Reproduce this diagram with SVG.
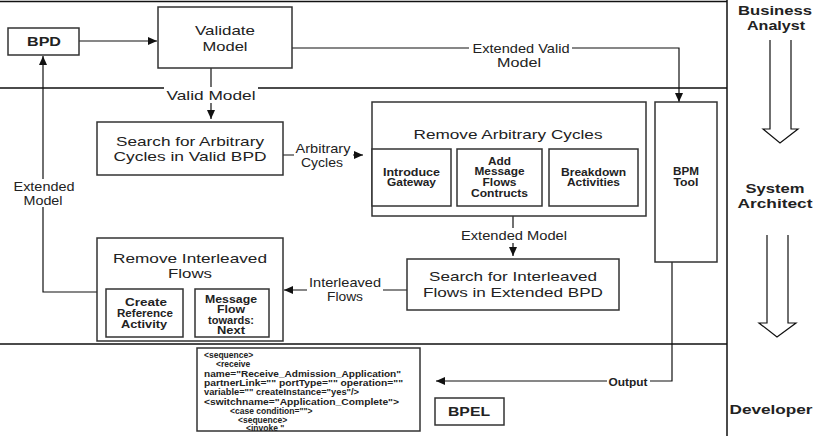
<svg xmlns="http://www.w3.org/2000/svg" width="814" height="436" viewBox="0 0 814 436">
<style>
.bg{fill:#fff}
.box{fill:#fff;stroke:#333;stroke-width:1.5}
.lane{fill:none;stroke:#111;stroke-width:1.5}
.ln{fill:none;stroke:#111;stroke-width:1.2}
.hol{fill:none;stroke:#111;stroke-width:1.2}
.t{font-family:"Liberation Sans",Arial,sans-serif;font-size:13px;fill:#222;text-anchor:middle;dominant-baseline:central}
.s{font-family:"Liberation Sans",Arial,sans-serif;font-size:10px;font-weight:bold;fill:#222;text-anchor:middle;dominant-baseline:central}
.b{font-weight:bold}
.code{font-family:"Liberation Sans",Arial,sans-serif;font-size:8.5px;font-weight:bold;fill:#222;dominant-baseline:central}
.lbl{fill:#fff;stroke:none}
</style>
<defs>
<marker id="ah" markerUnits="userSpaceOnUse" markerWidth="9" markerHeight="8" refX="9" refY="4" orient="auto">
<path d="M0,0 L9,4 L0,8 z" fill="#111"/>
</marker>
</defs>
<rect class="bg" x="0" y="0" width="814" height="436"/>

<g id="lanes">
<path class="lane" d="M0,1.5 H727 M727,0 V436 M0,88 H727 M0,344 H727"/>
</g>

<g id="role-business-analyst">
<text class="t b" x="775" y="10" textLength="74" lengthAdjust="spacingAndGlyphs">Business</text>
<text class="t b" x="776" y="25" textLength="58" lengthAdjust="spacingAndGlyphs">Analyst</text>
<path class="hol" d="M770,40 V129 H763 L780,143 L798,129 H791 V40"/>
</g>
<g id="role-system-architect">
<text class="t b" x="775" y="188" textLength="59" lengthAdjust="spacingAndGlyphs">System</text>
<text class="t b" x="775" y="203" textLength="75" lengthAdjust="spacingAndGlyphs">Architect</text>
<path class="hol" d="M767,235 V323 H759 L777,337 L796,323 H788 V235"/>
</g>
<g id="role-developer">
<text class="t b" x="771" y="409" textLength="83" lengthAdjust="spacingAndGlyphs">Developer</text>
</g>

<g id="connectors">
<path class="ln" d="M79,41 H157" marker-end="url(#ah)"/>
<path class="ln" d="M211,68 V119" marker-end="url(#ah)"/>
<path class="ln" d="M292,48 H679 V102" marker-end="url(#ah)"/>
<path class="ln" d="M283,155 H363" marker-end="url(#ah)"/>
<path class="ln" d="M513,216 V256" marker-end="url(#ah)"/>
<path class="ln" d="M407,290 H284" marker-end="url(#ah)"/>
<path class="ln" d="M97,292 H43 V56" marker-end="url(#ah)"/>
<path class="ln" d="M672,262 V381 H436" marker-end="url(#ah)"/>
<rect class="lbl" x="164" y="87" width="94" height="16"/>
<text class="t" x="211" y="95" textLength="89" lengthAdjust="spacingAndGlyphs">Valid Model</text>
<rect class="lbl" x="469" y="41" width="103" height="29"/>
<text class="t" x="521" y="48" textLength="97" lengthAdjust="spacingAndGlyphs">Extended Valid</text>
<text class="t" x="519" y="62" textLength="44" lengthAdjust="spacingAndGlyphs">Model</text>
<rect class="lbl" x="294" y="141" width="59" height="28"/>
<text class="t" x="323" y="148" textLength="55" lengthAdjust="spacingAndGlyphs">Arbitrary</text>
<text class="t" x="322" y="162" textLength="42" lengthAdjust="spacingAndGlyphs">Cycles</text>
<rect class="lbl" x="459" y="228" width="110" height="15"/>
<text class="t" x="514" y="235" textLength="106" lengthAdjust="spacingAndGlyphs">Extended Model</text>
<rect class="lbl" x="307" y="275" width="76" height="29"/>
<text class="t" x="345" y="282" textLength="72" lengthAdjust="spacingAndGlyphs">Interleaved</text>
<text class="t" x="345" y="296" textLength="36" lengthAdjust="spacingAndGlyphs">Flows</text>
<rect class="lbl" x="11" y="179" width="65" height="28"/>
<text class="t" x="44" y="186" textLength="61" lengthAdjust="spacingAndGlyphs">Extended</text>
<text class="t" x="43" y="200" textLength="39" lengthAdjust="spacingAndGlyphs">Model</text>
<rect class="lbl" x="607" y="375" width="43" height="14"/>
<text class="s" x="628" y="382" textLength="39" lengthAdjust="spacingAndGlyphs">Output</text>
</g>

<g id="bpd">
<rect class="box" x="8" y="28" width="71" height="27"/>
<text class="t b" x="44" y="41.5" textLength="34" lengthAdjust="spacingAndGlyphs">BPD</text>
</g>

<g id="validate-model">
<rect class="box" x="158" y="7" width="134" height="61"/>
<text class="t" x="225" y="30" textLength="60" lengthAdjust="spacingAndGlyphs">Validate</text>
<text class="t" x="225" y="46" textLength="45" lengthAdjust="spacingAndGlyphs">Model</text>
</g>

<g id="search-arbitrary-cycles">
<rect class="box" x="97" y="122" width="186" height="53"/>
<text class="t" x="190" y="141" textLength="148" lengthAdjust="spacingAndGlyphs">Search for Arbitrary</text>
<text class="t" x="190" y="156" textLength="153" lengthAdjust="spacingAndGlyphs">Cycles in Valid BPD</text>
</g>

<g id="remove-arbitrary-cycles">
<rect class="box" x="372" y="102" width="274" height="114"/>
<text class="t" x="508" y="134" textLength="189" lengthAdjust="spacingAndGlyphs">Remove Arbitrary Cycles</text>
</g>
<g id="introduce-gateway">
<rect class="box" x="372" y="149" width="79" height="57"/>
<text class="s" x="411.5" y="172" textLength="57" lengthAdjust="spacingAndGlyphs">Introduce</text>
<text class="s" x="411.5" y="182.5" textLength="49" lengthAdjust="spacingAndGlyphs">Gateway</text>
</g>
<g id="add-message-flows">
<rect class="box" x="457" y="149" width="85" height="57"/>
<text class="s" x="499.5" y="161" textLength="23" lengthAdjust="spacingAndGlyphs">Add</text>
<text class="s" x="499.5" y="171.5" textLength="50" lengthAdjust="spacingAndGlyphs">Message</text>
<text class="s" x="499.5" y="182" textLength="34" lengthAdjust="spacingAndGlyphs">Flows</text>
<text class="s" x="499.5" y="193" textLength="57" lengthAdjust="spacingAndGlyphs">Contructs</text>
</g>
<g id="breakdown-activities">
<rect class="box" x="549" y="149" width="89" height="57"/>
<text class="s" x="593.5" y="172" textLength="65" lengthAdjust="spacingAndGlyphs">Breakdown</text>
<text class="s" x="593.5" y="182.5" textLength="53" lengthAdjust="spacingAndGlyphs">Activities</text>
</g>

<g id="bpm-tool">
<rect class="box" x="655" y="102" width="62" height="160"/>
<text class="s" x="686" y="171" textLength="26" lengthAdjust="spacingAndGlyphs">BPM</text>
<text class="s" x="686" y="182" textLength="25" lengthAdjust="spacingAndGlyphs">Tool</text>
</g>

<g id="search-interleaved-flows">
<rect class="box" x="407" y="259" width="212" height="51"/>
<text class="t" x="513" y="276" textLength="168" lengthAdjust="spacingAndGlyphs">Search for Interleaved</text>
<text class="t" x="513" y="292" textLength="180" lengthAdjust="spacingAndGlyphs">Flows in Extended BPD</text>
</g>

<g id="remove-interleaved-flows">
<rect class="box" x="97" y="238" width="186" height="103"/>
<text class="t" x="190" y="258" textLength="154" lengthAdjust="spacingAndGlyphs">Remove Interleaved</text>
<text class="t" x="190" y="273" textLength="44" lengthAdjust="spacingAndGlyphs">Flows</text>
</g>
<g id="create-reference-activity">
<rect class="box" x="106" y="289" width="77" height="48"/>
<text class="s" x="146" y="302" textLength="42" lengthAdjust="spacingAndGlyphs">Create</text>
<text class="s" x="145" y="313" textLength="56" lengthAdjust="spacingAndGlyphs">Reference</text>
<text class="s" x="144" y="324" textLength="46" lengthAdjust="spacingAndGlyphs">Activity</text>
</g>
<g id="message-flow-towards-next">
<rect class="box" x="195" y="289" width="74" height="48"/>
<text class="s" x="231" y="299" textLength="52" lengthAdjust="spacingAndGlyphs">Message</text>
<text class="s" x="231" y="309.5" textLength="28" lengthAdjust="spacingAndGlyphs">Flow</text>
<text class="s" x="231" y="320" textLength="46" lengthAdjust="spacingAndGlyphs">towards:</text>
<text class="s" x="231" y="330.5" textLength="28" lengthAdjust="spacingAndGlyphs">Next</text>
</g>

<g id="bpel-code">
<rect class="box" x="197" y="348" width="223" height="83"/>
<text class="code" x="204" y="355">&lt;sequence&gt;</text>
<text class="code" x="216" y="364">&lt;receive</text>
<text class="code" x="204" y="373.5" textLength="197" lengthAdjust="spacingAndGlyphs">name="Receive_Admission_Application"</text>
<text class="code" x="204" y="383" textLength="199" lengthAdjust="spacingAndGlyphs">partnerLink="" portType="" operation=""</text>
<text class="code" x="204" y="392" textLength="155" lengthAdjust="spacingAndGlyphs">variable="" createInstance="yes"/&gt;</text>
<text class="code" x="204" y="401.5" textLength="195" lengthAdjust="spacingAndGlyphs">&lt;switchname="Application_Complete"&gt;</text>
<text class="code" x="230" y="410.5">&lt;case condition=""&gt;</text>
<text class="code" x="238" y="419.5">&lt;sequence&gt;</text>
<text class="code" x="246" y="428">&lt;invoke "</text>
</g>

<g id="bpel">
<rect class="box" x="435" y="398" width="69" height="27"/>
<text class="t b" x="469" y="411.5" font-size="14" textLength="42" lengthAdjust="spacingAndGlyphs">BPEL</text>
</g>
</svg>
